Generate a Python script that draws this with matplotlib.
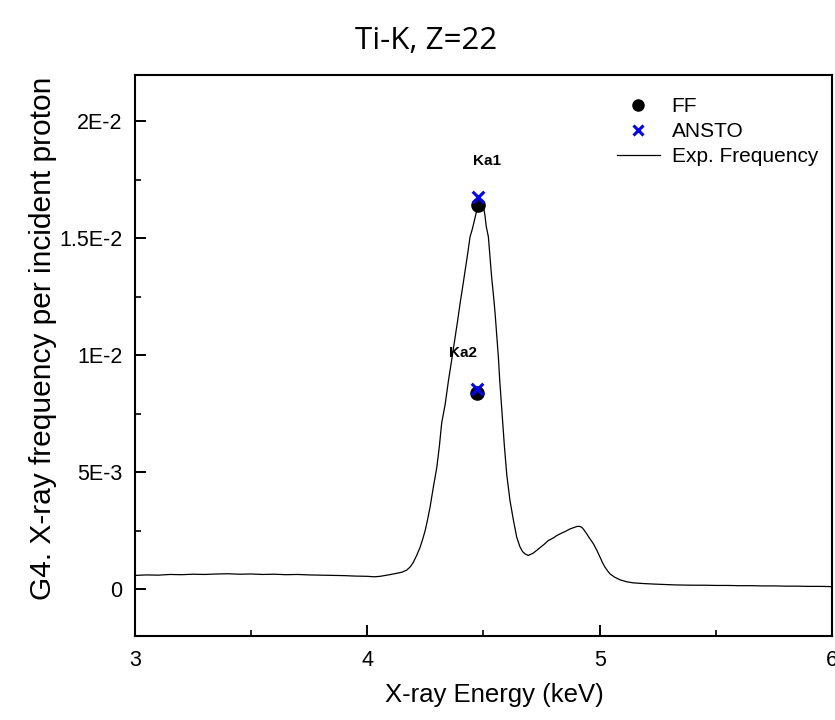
import matplotlib
matplotlib.use("Agg")
import matplotlib.pyplot as plt
from matplotlib.ticker import FixedLocator, MultipleLocator, FixedFormatter
from matplotlib.lines import Line2D

energy = [3.00, 3.05, 3.10, 3.15, 3.20, 3.25, 3.30, 3.35, 3.40, 3.45, 3.50, 3.55,
          3.60, 3.65, 3.70, 3.75, 3.80, 3.85, 3.90, 3.95, 4.00, 4.03, 4.055, 4.09,
          4.127, 4.15, 4.170, 4.185, 4.198, 4.213, 4.227, 4.238, 4.249, 4.260, 4.270,
          4.284, 4.299, 4.310, 4.320, 4.335, 4.349, 4.356, 4.367, 4.378, 4.389, 4.399,
          4.410, 4.421, 4.432, 4.442, 4.452, 4.461, 4.471, 4.478, 4.488, 4.500, 4.506,
          4.512, 4.521, 4.528, 4.535, 4.543, 4.550, 4.557, 4.564, 4.570, 4.580, 4.590,
          4.600, 4.614, 4.629, 4.643, 4.657, 4.668, 4.679, 4.693, 4.700, 4.712, 4.729,
          4.745, 4.760, 4.779, 4.800, 4.815, 4.830, 4.850, 4.873, 4.890, 4.901, 4.912,
          4.923, 4.933, 4.944, 4.958, 4.973, 4.988, 5.002, 5.012, 5.023, 5.035, 5.045,
          5.065, 5.088, 5.115, 5.145, 5.19, 5.231, 5.28, 5.332, 5.40, 5.45, 5.50,
          5.55, 5.60, 5.65, 5.70, 5.75, 5.80, 5.85, 5.90, 5.95, 6.00]
frequency = [0.00058, 0.00060, 0.00059, 0.00062, 0.00061, 0.00063, 0.00062, 0.00064,
             0.00065, 0.00063, 0.00064, 0.00062, 0.00063, 0.00061, 0.00062, 0.00060,
             0.00059, 0.00058, 0.00057, 0.00055, 0.00054, 0.00052, 0.00054, 0.00060,
             0.00067, 0.00072, 0.00081, 0.00095, 0.00114, 0.00145, 0.00178, 0.00212,
             0.00250, 0.00300, 0.00350, 0.00435, 0.00520, 0.00610, 0.00710, 0.00790,
             0.00890, 0.00935, 0.01005, 0.01078, 0.01150, 0.01220, 0.01290, 0.01363,
             0.01435, 0.01506, 0.01540, 0.01577, 0.01620, 0.01649, 0.01640, 0.01634,
             0.01600, 0.01550, 0.01506, 0.01420, 0.01334, 0.01255, 0.01178, 0.01085,
             0.00992, 0.00890, 0.00750, 0.00610, 0.00490, 0.00378, 0.00293, 0.00221,
             0.00180, 0.00160, 0.00150, 0.00143, 0.00147, 0.00152, 0.00165, 0.00178,
             0.00190, 0.00207, 0.00218, 0.00228, 0.00236, 0.00245, 0.00257, 0.00263,
             0.00267, 0.00268, 0.00264, 0.00252, 0.00236, 0.00215, 0.00193, 0.00165,
             0.00135, 0.00113, 0.00093, 0.00076, 0.00064, 0.00050, 0.00039, 0.00031,
             0.00026, 0.00023, 0.00021, 0.00019, 0.00017, 0.00016, 0.00016, 0.00015,
             0.00015, 0.00014, 0.00014, 0.00013, 0.00013, 0.00012, 0.00012, 0.00011,
             0.00011, 0.00010]

lines = ["Ka1", "Ka2"]
line_energy = [4.478, 4.471]
ff_values = [0.01642, 0.00838]
ansto_values = [0.01677, 0.00855]
label_pos_x = [4.516, 4.410]
label_pos_y = [0.01830, 0.01008]

ytick_vals = [0, 0.005, 0.010, 0.015, 0.020]
ytick_labels = ["0", "5E-3", "1E-2", "1.5E-2", "2E-2"]
xtick_vals = [3, 4, 5, 6]

plt.rcParams['font.family'] = ['Liberation Sans', 'DejaVu Sans']

fig = plt.figure(figsize=(8.35, 7.2), dpi=100)
ax = fig.add_axes([135/835, 1-635.7/720, (832-135)/835, (635.7-74.7)/720])

ax.plot(energy, frequency, color='black', lw=0.9, zorder=2)
ax.scatter(line_energy, ff_values, s=90, color='black', marker='o', zorder=3)
ax.scatter(line_energy, ansto_values, s=70, color='blue', marker='x', linewidths=2.2,
           zorder=4)
for name, lx, ly in zip(lines, label_pos_x, label_pos_y):
    ax.text(lx, ly, name, fontsize=11, fontweight='bold', ha='center', va='center')

ax.set_xlim(3, 6)
ax.set_ylim(-0.002, 0.022)
ax.xaxis.set_major_locator(FixedLocator(xtick_vals))
ax.xaxis.set_minor_locator(MultipleLocator(0.5))
ax.yaxis.set_major_locator(FixedLocator(ytick_vals))
ax.yaxis.set_major_formatter(FixedFormatter(ytick_labels))
ax.yaxis.set_minor_locator(MultipleLocator(0.0025))
ax.tick_params(which='major', direction='in', length=8, width=1.4, labelsize=15.5)
ax.tick_params(which='minor', direction='in', length=4.5, width=1.2)
ax.tick_params(axis='y', which='major', pad=9)
ax.tick_params(axis='x', which='major', pad=10)
for s in ax.spines.values():
    s.set_linewidth(1.5)

ax.set_xlabel("X-ray Energy (keV)", fontsize=18.5)
ax.xaxis.set_label_coords(0.516, -0.085)
ax.set_ylabel("G4. X-ray frequency per incident proton", fontsize=21.5)
ax.yaxis.set_label_coords(-0.112, 0.53)
fig.text(426/835, 1-41/720, "Ti-K, Z=22", fontsize=22.5, family='Open Sans',
         ha='center', va='center')

handles = [Line2D([], [], ls='none', marker='o', color='black', markersize=8),
           Line2D([], [], ls='none', marker='x', color='blue', markersize=7, mew=2.2),
           Line2D([], [], color='black', lw=0.9)]
ax.legend(handles, ['FF', 'ANSTO', 'Exp. Frequency'], loc='upper right',
          frameon=False, fontsize=15, handlelength=2.1, handletextpad=0.55,
          labelspacing=0.3, borderpad=0.3, bbox_to_anchor=(1.004, 0.99))

fig.savefig("out.png", dpi=100)
